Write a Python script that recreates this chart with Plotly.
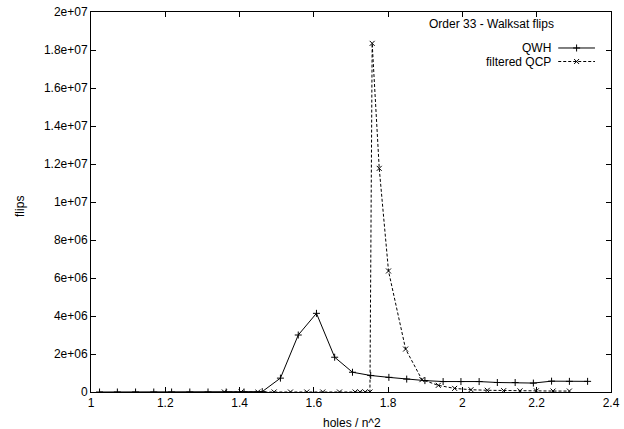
import plotly.graph_objects as go

# QWH series (holes / n^2, flips)
qwh_x = [1.023, 1.071, 1.120, 1.169, 1.217, 1.266, 1.315, 1.364, 1.412, 1.461,
         1.510, 1.558, 1.607, 1.656, 1.704, 1.753, 1.802, 1.850, 1.899, 1.948,
         1.996, 2.045, 2.094, 2.142, 2.191, 2.240, 2.288, 2.337]
qwh_y = [0, 0, 0, 0, 0, 0, 0, 0, 0, 0.02e6,
         0.73e6, 3.0e6, 4.14e6, 1.83e6, 1.04e6, 0.87e6, 0.77e6, 0.68e6, 0.6e6, 0.55e6,
         0.55e6, 0.55e6, 0.5e6, 0.5e6, 0.47e6, 0.57e6, 0.56e6, 0.56e6]

# filtered QCP series
qcp_x = [1.359, 1.404, 1.449, 1.493, 1.537, 1.581, 1.624, 1.669, 1.711, 1.724,
         1.738, 1.751, 1.757, 1.776, 1.801, 1.847, 1.891, 1.935, 1.979, 2.023,
         2.067, 2.111, 2.155, 2.199, 2.244, 2.288]
qcp_y = [0, 0, 0, 0, 0, 0, 0, 0, 0, 0,
         0, 0, 18.35e6, 11.77e6, 6.37e6, 2.26e6, 0.65e6, 0.35e6, 0.19e6, 0.12e6,
         0.09e6, 0.07e6, 0.06e6, 0.06e6, 0.05e6, 0.05e6]

x_ticks = [1.0, 1.2, 1.4, 1.6, 1.8, 2.0, 2.2, 2.4]
x_ticktext = ["1", "1.2", "1.4", "1.6", "1.8", "2", "2.2", "2.4"]
y_ticks = [0, 2e6, 4e6, 6e6, 8e6, 1e7, 1.2e7, 1.4e7, 1.6e7, 1.8e7, 2e7]
y_ticktext = ["0", "2e+06", "4e+06", "6e+06", "8e+06", "1e+07",
              "1.2e+07", "1.4e+07", "1.6e+07", "1.8e+07", "2e+07"]

series_names = ["QWH", "filtered QCP"]
title_text = "Order 33 - Walksat flips"

FONT = "Liberation Sans, Arial, Helvetica, sans-serif"

fig = go.Figure()
fig.add_trace(go.Scatter(
    x=qwh_x, y=qwh_y, mode="lines+markers", name=series_names[0],
    line=dict(color="black", width=1),
    marker=dict(symbol="cross-thin", size=5, line=dict(color="black", width=1)),
    showlegend=False))
fig.add_trace(go.Scatter(
    x=qcp_x, y=qcp_y, mode="lines+markers", name=series_names[1],
    line=dict(color="black", width=1, dash="3px,2px"),
    marker=dict(symbol="x-thin", size=5, line=dict(color="black", width=1)),
    showlegend=False))

# legend samples (gnuplot style: text left, sample right) on an overlay axis
leg_x = [0.8985, 0.9692]
leg_y = [0.9053, 0.8697]
fig.add_trace(go.Scatter(
    x=leg_x, y=[leg_y[0]] * 2, xaxis="x2", yaxis="y2", mode="lines",
    line=dict(color="black", width=1), showlegend=False, hoverinfo="skip"))
fig.add_trace(go.Scatter(
    x=[sum(leg_x) / 2], y=[leg_y[0]], xaxis="x2", yaxis="y2", mode="markers",
    marker=dict(symbol="cross-thin", size=5, line=dict(color="black", width=1)),
    showlegend=False, hoverinfo="skip"))
fig.add_trace(go.Scatter(
    x=leg_x, y=[leg_y[1]] * 2, xaxis="x2", yaxis="y2", mode="lines",
    line=dict(color="black", width=1, dash="3px,2px"), showlegend=False, hoverinfo="skip"))
fig.add_trace(go.Scatter(
    x=[sum(leg_x) / 2], y=[leg_y[1]], xaxis="x2", yaxis="y2", mode="markers",
    marker=dict(symbol="x-thin", size=5, line=dict(color="black", width=1)),
    showlegend=False, hoverinfo="skip"))

axis_common = dict(
    showgrid=False, zeroline=False, showline=True, linecolor="black", linewidth=1,
    mirror="allticks", ticks="inside", ticklen=5, tickcolor="black", tickwidth=1,
    automargin=False,
    tickfont=dict(family=FONT, size=12, color="black"))

fig.update_layout(
    width=624, height=429, autosize=False,
    margin=dict(l=91, r=13, t=12, b=37, pad=0),
    paper_bgcolor="white", plot_bgcolor="white",
    font=dict(family=FONT, size=12, color="black"),
    xaxis=dict(range=[1, 2.4], tickvals=x_ticks, ticktext=x_ticktext, **axis_common),
    yaxis=dict(range=[0, 2e7], tickvals=y_ticks, ticktext=y_ticktext, **axis_common),
    xaxis2=dict(overlaying="x", range=[0, 1], visible=False, automargin=False),
    yaxis2=dict(overlaying="y", range=[0, 1], visible=False, automargin=False),
    annotations=[
        dict(text=title_text, xref="paper", yref="paper", x=0.7706, y=0.9676,
             showarrow=False, xanchor="center", yanchor="middle"),
        dict(text=series_names[0], xref="paper", yref="paper", x=0.886, y=leg_y[0],
             showarrow=False, xanchor="right", yanchor="middle", borderpad=0),
        dict(text=series_names[1], xref="paper", yref="paper", x=0.886, y=leg_y[1],
             showarrow=False, xanchor="right", yanchor="middle", borderpad=0),
        dict(text="flips", xref="paper", yref="paper", x=-0.1365, y=0.487,
             showarrow=False, textangle=-90, xanchor="center", yanchor="middle"),
        dict(text="holes / n^2", xref="paper", yref="paper", x=0.502, y=-0.0816,
             showarrow=False, xanchor="center", yanchor="middle"),
    ],
)

fig.write_html(
    "out.html",
    config={"displayModeBar": False},
    post_script="document.body.style.margin='0';document.body.style.padding='0';"
                "document.body.style.overflow='hidden';",
)
